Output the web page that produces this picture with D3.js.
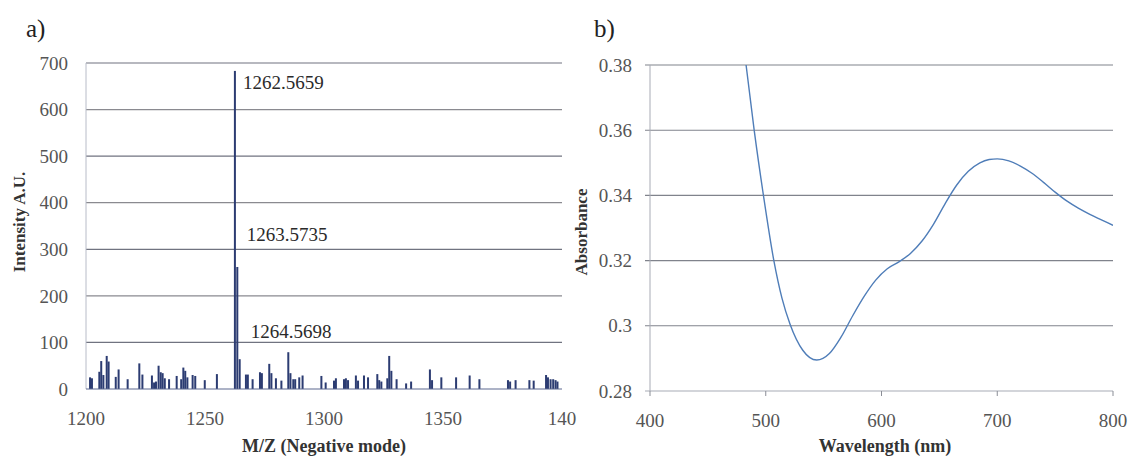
<!DOCTYPE html>
<html>
<head>
<meta charset="utf-8">
<script src="https://cdn.jsdelivr.net/npm/d3@7"></script>
<style>
  body { margin: 0; background: #fff; }
  text { font-family: "Liberation Serif", "DejaVu Serif", serif; }
</style>
</head>
<body>
<script>
// mass spectrum (panel a)
var mzValues = [1201.7, 1202.5, 1205.6, 1206.4, 1207.3, 1208.7, 1209.5, 1212.5, 1213.7, 1217.5,
  1222.4, 1223.7, 1227.7, 1228.6, 1229.4, 1230.5, 1231.4, 1232.2, 1233.1, 1234.9,
  1238.1, 1240.0, 1240.9, 1241.7, 1242.6, 1244.8, 1245.9, 1249.9, 1255.0,
  1262.5659, 1263.5735, 1264.5698,
  1267.2, 1268.0, 1270.0, 1273.1, 1273.9, 1277.0, 1277.9, 1279.8, 1282.1, 1285.0,
  1285.9, 1287.1, 1287.9, 1289.6, 1291.0, 1298.9, 1300.7, 1304.2, 1305.0, 1308.4,
  1309.2, 1310.1, 1313.4, 1314.3, 1316.8, 1318.5, 1322.4, 1323.2, 1324.1, 1326.6,
  1327.4, 1328.3, 1330.5, 1334.5, 1336.6, 1344.5, 1345.4, 1349.3, 1355.5, 1361.2,
  1365.3, 1377.3, 1378.2, 1380.5, 1386.3, 1388.1, 1393.3, 1394.1, 1395.2, 1396.3,
  1397.3, 1398.1];
var intensities = [25, 23, 37, 60, 30, 71, 59, 26, 42, 21,
  55, 31, 29, 14, 16, 50, 36, 34, 23, 21,
  28, 21, 46, 39, 25, 30, 28, 19, 32,
  683, 262, 64,
  31, 31, 21, 36, 34, 54, 34, 23, 18, 79,
  34, 21, 21, 25, 29, 28, 14, 18, 23, 21,
  23, 19, 29, 18, 29, 25, 32, 19, 16, 23,
  71, 39, 21, 12, 16, 42, 19, 25, 25, 29,
  21, 19, 16, 19, 19, 18, 30, 25, 21, 21,
  19, 16];
var peakLabels = ["1262.5659", "1263.5735", "1264.5698"];
var peakLabelY = [644, 318, 110];
var mzTicks = [1200, 1250, 1300, 1350, 1400];
var mzTickLabels = ["1200", "1250", "1300", "1350", "140"];
var intensityTicks = [0, 100, 200, 300, 400, 500, 600, 700];

// absorbance spectrum (panel b)
var wavelengths = [483, 490, 498, 507, 514, 521, 532, 544, 555, 565, 575, 585, 595, 605, 615, 625,
  635, 645, 655, 665, 675, 685, 693, 700, 710, 720, 730, 740, 750, 760, 770, 780, 790, 800];
var absorbance = [0.380, 0.360, 0.340, 0.320, 0.3085, 0.3005, 0.2925, 0.2895, 0.2915, 0.2965, 0.3030,
  0.3090, 0.3140, 0.3175, 0.3196, 0.3222, 0.3260, 0.3312, 0.3375, 0.3432, 0.3474, 0.3500,
  0.3510, 0.3512, 0.3506, 0.3490, 0.3468, 0.3440, 0.3410, 0.3383, 0.3361, 0.3342, 0.3325, 0.3308];
var wlTicks = [400, 500, 600, 700, 800];
var absTicks = [0.28, 0.30, 0.32, 0.34, 0.36, 0.38];
var absTickLabels = ["0.28", "0.3", "0.32", "0.34", "0.36", "0.38"];

var svg = d3.select("body")
            .append("svg")
            .attr("width", 1129)
            .attr("height", 459);

// ---------- panel a ----------
var xA = d3.scaleLinear().domain([1200, 1400]).range([86, 562]);
var yA = d3.scaleLinear().domain([0, 700]).range([389, 63]);

svg.append("text")
   .attr("x", 26).attr("y", 37)
   .style("font-size", "25px").attr("fill", "#222")
   .text("a)");

// horizontal gridlines
svg.append("g")
   .selectAll("line")
   .data(intensityTicks.slice(1))
   .enter().append("line")
   .attr("x1", xA(1200)).attr("x2", xA(1400))
   .attr("y1", d => yA(d)).attr("y2", d => yA(d))
   .attr("stroke", (d, i) => i % 2 == 0 ? "#707380" : "#8a8a90")
   .attr("stroke-width", 1.2);

// y axis line
svg.append("line")
   .attr("x1", 86).attr("x2", 86)
   .attr("y1", yA(700)).attr("y2", yA(0))
   .attr("stroke", "#b8bcc8");

// bars
svg.append("g")
   .selectAll("rect")
   .data(mzValues)
   .enter().append("rect")
   .attr("x", d => xA(d) - 1)
   .attr("y", (d, i) => yA(intensities[i]))
   .attr("width", 2)
   .attr("height", (d, i) => yA(0) - yA(intensities[i]))
   .attr("fill", "#2c3c72");

// baseline
svg.append("line")
   .attr("x1", 86).attr("x2", 562)
   .attr("y1", yA(0)).attr("y2", yA(0))
   .attr("stroke", "#5d6890").attr("stroke-width", 1.2);

// peak labels
peakLabels.forEach(function(label, i) {
  svg.append("text")
     .attr("x", xA(mzValues[29 + i]) + 8 + i * 1.5)
     .attr("y", yA(peakLabelY[i]))
     .style("font-size", "19px")
     .attr("fill", "#2a2a2a")
     .text(label);
});

// y tick labels
svg.append("g")
   .selectAll("text")
   .data(intensityTicks)
   .enter().append("text")
   .attr("x", 68)
   .attr("y", d => yA(d))
   .attr("dy", "0.35em")
   .attr("text-anchor", "end")
   .style("font-size", "19px")
   .attr("fill", "#555")
   .text(d => d);

// x tick labels
svg.append("g")
   .selectAll("text")
   .data(mzTicks)
   .enter().append("text")
   .attr("x", d => xA(d))
   .attr("y", 425)
   .attr("text-anchor", "middle")
   .style("font-size", "19px")
   .attr("fill", "#555")
   .text((d, i) => mzTickLabels[i]);

// axis titles
svg.append("text")
   .attr("x", 324).attr("y", 452)
   .attr("text-anchor", "middle")
   .style("font-size", "18px").style("font-weight", "bold")
   .attr("fill", "#333")
   .text("M/Z (Negative mode)");

svg.append("text")
   .attr("transform", "rotate(-90)")
   .attr("x", -222).attr("y", 25)
   .attr("text-anchor", "middle")
   .style("font-size", "17px").style("font-weight", "bold")
   .attr("fill", "#333")
   .text("Intensity A.U.");

// ---------- panel b ----------
var xB = d3.scaleLinear().domain([400, 800]).range([650, 1113]);
var yB = d3.scaleLinear().domain([0.28, 0.38]).range([391, 65]);

svg.append("text")
   .attr("x", 594).attr("y", 37)
   .style("font-size", "25px").attr("fill", "#222")
   .text("b)");

svg.append("g")
   .selectAll("line")
   .data(absTicks)
   .enter().append("line")
   .attr("x1", xB(400) - 5).attr("x2", xB(800))
   .attr("y1", d => yB(d)).attr("y2", d => yB(d))
   .attr("stroke", (d, i) => i == 0 ? "#a8abb5" : "#80838c")
   .attr("stroke-width", 1.1);

svg.append("line")
   .attr("x1", 650).attr("x2", 650)
   .attr("y1", yB(0.38)).attr("y2", yB(0.28))
   .attr("stroke", "#a8abb5");

// x tick marks
svg.append("g")
   .selectAll("line")
   .data(wlTicks)
   .enter().append("line")
   .attr("x1", d => xB(d)).attr("x2", d => xB(d))
   .attr("y1", yB(0.28)).attr("y2", yB(0.28) + 5)
   .attr("stroke", "#8a8d96");

svg.append("clipPath")
   .attr("id", "clipB")
   .append("rect")
   .attr("x", 650).attr("y", 65)
   .attr("width", 463).attr("height", 326);

var line = d3.line()
             .x(d => xB(d[0]))
             .y(d => yB(d[1]))
             .curve(d3.curveMonotoneX);

svg.append("path")
   .datum(wavelengths.map((w, i) => [w, absorbance[i]]))
   .attr("d", line)
   .attr("clip-path", "url(#clipB)")
   .attr("fill", "none")
   .attr("stroke", "#4f7db8")
   .attr("stroke-width", 1.4);

svg.append("g")
   .selectAll("text")
   .data(absTicks)
   .enter().append("text")
   .attr("x", 632)
   .attr("y", d => yB(d))
   .attr("dy", "0.35em")
   .attr("text-anchor", "end")
   .style("font-size", "19px")
   .attr("fill", "#555")
   .text((d, i) => absTickLabels[i]);

svg.append("g")
   .selectAll("text")
   .data(wlTicks)
   .enter().append("text")
   .attr("x", d => xB(d))
   .attr("y", 427)
   .attr("text-anchor", "middle")
   .style("font-size", "19px")
   .attr("fill", "#555")
   .text(d => d);

svg.append("text")
   .attr("x", 885).attr("y", 452)
   .attr("text-anchor", "middle")
   .style("font-size", "18px").style("font-weight", "bold")
   .attr("fill", "#333")
   .text("Wavelength (nm)");

svg.append("text")
   .attr("transform", "rotate(-90)")
   .attr("x", -232).attr("y", 587)
   .attr("text-anchor", "middle")
   .style("font-size", "17px").style("font-weight", "bold")
   .attr("fill", "#333")
   .text("Absorbance");
</script>
</body>
</html>
